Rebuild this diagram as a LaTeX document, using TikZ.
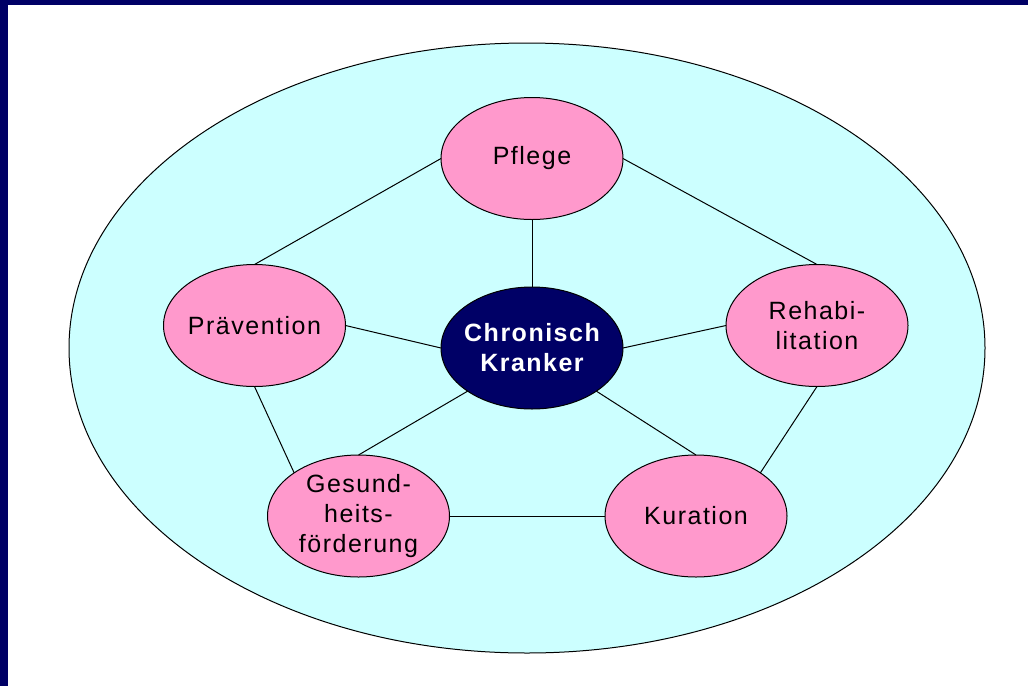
\documentclass[tikz,border=0pt]{standalone}
\usepackage{fontspec}
\setmainfont{Liberation Sans}[LetterSpace=6]
\usetikzlibrary{shapes.geometric}
\definecolor{navy}{RGB}{0,0,102}
\definecolor{lightcyan}{RGB}{204,255,255}
\definecolor{pinkfill}{RGB}{255,153,204}
\tikzset{
  bubble/.style={ellipse, draw=black, line width=1pt, fill=pinkfill, minimum width=182pt, minimum height=122pt,
    inner xsep=-20pt, inner ysep=-6pt, outer sep=0pt, align=center, font=\fontsize{25}{30}\selectfont, text=black},
  core/.style={bubble, fill=navy, text=white, font=\fontsize{25}{30}\selectfont\bfseries},
  link/.style={draw=black, line width=1pt}
}
\begin{document}
\begin{tikzpicture}[x=1pt,y=-1pt]
\useasboundingbox (0,0) rectangle (1028,686);
\fill[white] (0,0) rectangle (1028,686);
\fill[navy] (0,0) rectangle (1028,5);
\fill[navy] (0,0) rectangle (8,686);
\node[ellipse, draw=black, line width=1pt, fill=lightcyan, minimum width=916pt, minimum height=610pt, inner sep=0pt, outer sep=0pt] (outer) at (527,348) {};
\node[bubble] (pf) at (532,158.5) {Pflege};
\node[bubble] (pr) at (254.5,325.5) {Prävention};
\node[bubble] (re) at (817,325.5) {Rehabi-\\litation};
\node[bubble] (ge) at (358.5,516) {Gesund-\\heits-\\förderung};
\node[bubble] (ku) at (696,516) {Kuration};
\node[core] (ck) at (532,348) {Chronisch\\Kranker};
\draw[link] (pf.south) -- (ck.north);
\draw[link] (pf.west) -- (pr.north);
\draw[link] (pf.east) -- (re.north);
\draw[link] (pr.east) -- (ck.west);
\draw[link] (re.west) -- (ck.east);
\draw[link] (pr.south) -- (ge.north west);
\draw[link] (ge.north) -- (ck.south west);
\draw[link] (ck.south east) -- (ku.north);
\draw[link] (re.south) -- (ku.north east);
\draw[link] (ge.east) -- (ku.west);
\end{tikzpicture}
\end{document}
